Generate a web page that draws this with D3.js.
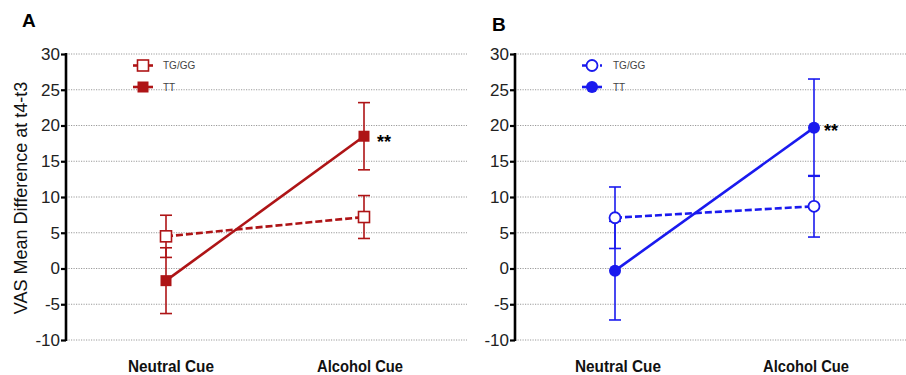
<!DOCTYPE html>
<html><head><meta charset="utf-8">
<script src="https://cdn.jsdelivr.net/npm/d3@7"></script>
<style>body{margin:0;background:#fff}svg{display:block}text{font-family:Arial,"Liberation Sans",sans-serif}</style>
</head><body>
<script>
const categories = ["Neutral Cue", "Alcohol Cue"];
const yTicks = [-10, -5, 0, 5, 10, 15, 20, 25, 30];
const seriesNames = ["TG/GG", "TT"];
// Panel A (red, squares)
const aTGGG = [4.5, 7.2];
const aTGGGErr = [2.95, 3.0];
const aTT = [-1.7, 18.5];
const aTTErr = [4.6, 4.7];
// Panel B (blue, circles)
const bTGGG = [7.1, 8.7];
const bTGGGErr = [4.3, 4.3];
const bTT = [-0.3, 19.7];
const bTTErr = [6.9, 6.8];
const panelLetters = ["A", "B"];
const yLabel = "VAS Mean Difference at t4-t3";
const significance = "**";

const W = 906, H = 375;
const svg = d3.select("body").append("svg").attr("width", W).attr("height", H);

const panels = [
  {letter: panelLetters[0], letterX: 22, letterY: 27, axisX: 66, gridEnd: 467, xs: [166, 364], color: "#ae1416", shape: "square",
   s1: aTGGG, e1: aTGGGErr, s2: aTT, e2: aTTErr, legX: 133, legTextX: 163, starX: 377, starY: 148,
   labelX: [171, 360]},
  {letter: panelLetters[1], letterX: 492, letterY: 31, axisX: 515, gridEnd: 906, xs: [615, 814], color: "#1a1aee", shape: "circle",
   s1: bTGGG, e1: bTGGGErr, s2: bTT, e2: bTTErr, legX: 582, legTextX: 613, starX: 824, starY: 137,
   labelX: [618, 806]}
];

const y = d3.scaleLinear().domain([-10, 30]).range([340, 54]);

panels.forEach(p => {
  const g = svg.append("g");
  g.selectAll(".grid").data(yTicks).enter().append("line")
    .attr("x1", p.axisX).attr("x2", p.gridEnd)
    .attr("y1", d => y(d)).attr("y2", d => y(d))
    .attr("stroke", "#9a9a9a").attr("stroke-width", 1).attr("stroke-dasharray", "1.2,1.3");
  const ax = g.append("g").attr("transform", `translate(${p.axisX},0)`)
    .call(d3.axisLeft(y).tickValues(yTicks).tickSize(5).tickPadding(1).tickFormat(d => String(d)));
  ax.select(".domain").attr("stroke", "#000").attr("stroke-width", 2.6).attr("d", `M0,${y(30)-1}V${y(-10)+1}`);
  ax.selectAll(".tick line").attr("stroke", "#000").attr("stroke-width", 2.2);
  ax.selectAll(".tick text").attr("font-size", 17).attr("fill", "#222").attr("font-family", "Arial, 'Liberation Sans', sans-serif");
  g.append("text").attr("x", p.letterX).attr("y", p.letterY).attr("font-size", 19).attr("font-weight", "bold").text(p.letter);
  categories.forEach((c, i) => {
    g.append("text").attr("x", p.labelX[i]).attr("y", 372).attr("text-anchor", "middle")
      .attr("font-size", 16).attr("font-weight", "bold").attr("fill", "#111")
      .attr("textLength", 86).attr("lengthAdjust", "spacingAndGlyphs").text(c);
  });
  const xs = d3.scaleOrdinal().domain(categories).range(p.xs);
  const line = d3.line().x((d, i) => xs(categories[i])).y(d => y(d));
  const drawErr = (vals, errs) => {
    vals.forEach((v, i) => {
      const cx = xs(categories[i]);
      g.append("line").attr("x1", cx).attr("x2", cx).attr("y1", y(v - errs[i])).attr("y2", y(v + errs[i]))
        .attr("stroke", p.color).attr("stroke-width", 1.6);
      [v - errs[i], v + errs[i]].forEach(e => {
        g.append("line").attr("x1", cx - 6).attr("x2", cx + 6).attr("y1", y(e)).attr("y2", y(e))
          .attr("stroke", p.color).attr("stroke-width", 1.6);
      });
    });
  };
  drawErr(p.s1, p.e1);
  drawErr(p.s2, p.e2);
  g.append("path").datum(p.s1).attr("d", line).attr("fill", "none").attr("stroke", p.color)
    .attr("stroke-width", 2.6).attr("stroke-dasharray", "7,3");
  g.append("path").datum(p.s2).attr("d", line).attr("fill", "none").attr("stroke", p.color)
    .attr("stroke-width", 2.6);
  const marker = (sel, cx, cy, filled) => {
    if (p.shape === "square") {
      sel.append("rect").attr("x", cx - 5.5).attr("y", cy - 5.5).attr("width", 11).attr("height", 11)
        .attr("fill", filled ? p.color : "#fff").attr("stroke", p.color).attr("stroke-width", filled ? 0 : 1.6);
    } else {
      sel.append("circle").attr("cx", cx).attr("cy", cy).attr("r", filled ? 6 : 5.5)
        .attr("fill", filled ? p.color : "#fff").attr("stroke", p.color).attr("stroke-width", filled ? 0 : 1.8);
    }
  };
  p.s1.forEach((v, i) => marker(g, xs(categories[i]), y(v), false));
  p.s2.forEach((v, i) => marker(g, xs(categories[i]), y(v), true));
  g.append("text").attr("x", p.starX).attr("y", p.starY).attr("font-size", 18).attr("font-weight", "bold").text(significance);
  seriesNames.forEach((n, i) => {
    const ly = 65.5 + i * 21.5;
    const lg = g.append("g");
    lg.append("line").attr("x1", p.legX).attr("x2", p.legX + 20).attr("y1", ly).attr("y2", ly)
      .attr("stroke", p.color).attr("stroke-width", 2.6).attr("stroke-dasharray", i === 0 && p.shape === "circle" ? "4,2" : null);
    marker(lg, p.legX + 10, ly, i === 1);
    lg.append("text").attr("x", p.legTextX).attr("y", ly + 3.5).attr("font-size", 10).attr("fill", "#444").text(n);
  });
});

svg.append("text").attr("transform", "translate(27,198) rotate(-90)").attr("text-anchor", "middle")
  .attr("font-size", 18).attr("fill", "#111").text(yLabel);
</script>
</body></html>
